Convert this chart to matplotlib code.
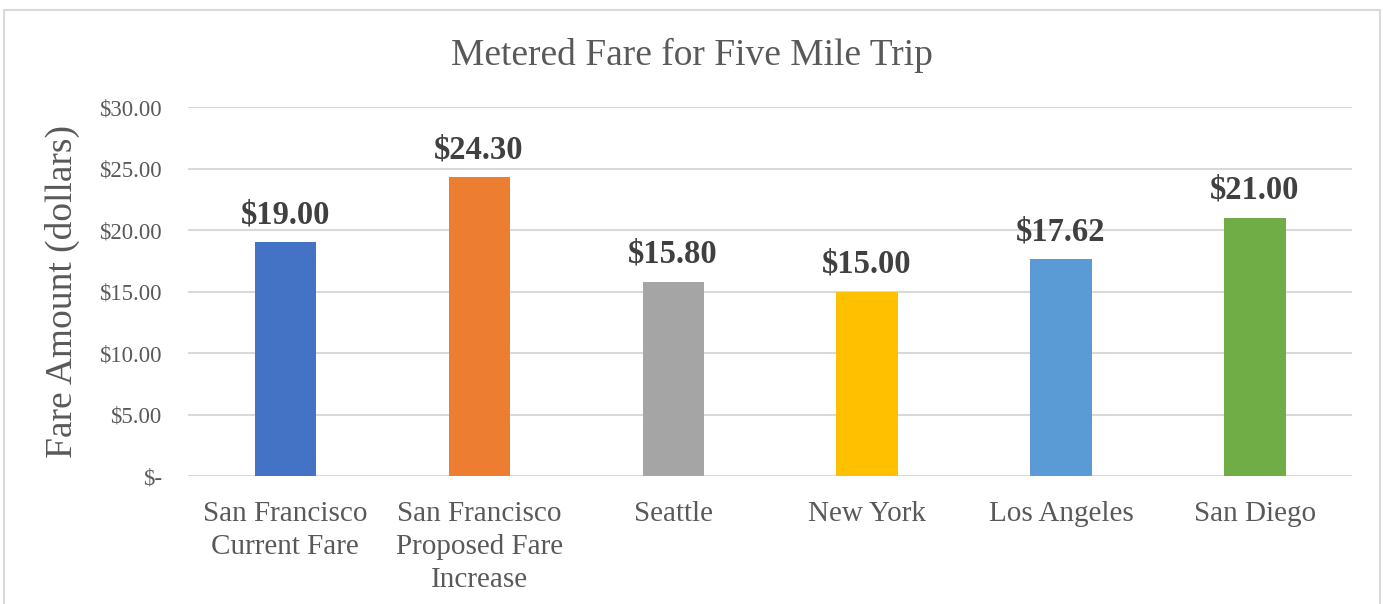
import numpy as np
import matplotlib.pyplot as plt
from matplotlib.patches import Rectangle
from matplotlib.ticker import FuncFormatter

cities = ['San Francisco\nCurrent Fare', 'San Francisco\nProposed Fare\nIncrease',
          'Seattle', 'New York', 'Los Angeles', 'San Diego']
fares = [19.00, 24.30, 15.80, 15.00, 17.62, 21.00]
colors = ['#4472C4', '#ED7D31', '#A5A5A5', '#FFC000', '#5B9BD5', '#70AD47']

plt.rcParams['font.family'] = ['Liberation Serif', 'DejaVu Serif']

fig = plt.figure(figsize=(13.83, 6.04), dpi=100)
ax = fig.add_axes([0.136, 0.2119, 0.8416, 0.6109])

# chart border (bottom edge runs off the image)
fig.patches.append(Rectangle((4 / 1383, -0.05), 1376 / 1383, 1 - 10 / 604 + 0.05,
                             transform=fig.transFigure, fill=False,
                             edgecolor='#d9d9d9', linewidth=1.5, clip_on=False))

x = np.arange(len(cities))
ax.bar(x, fares, width=0.315, color=colors, zorder=3)

for xi, v in zip(x, fares):
    ax.annotate(f'${v:.2f}', (xi, v), xytext=(0, 8.5), textcoords='offset points',
                ha='center', va='bottom', fontsize=23.5, fontweight='bold', color='#404040')

ax.set_xlim(-0.5, len(cities) - 0.5)
ax.set_ylim(0, 30)
ax.set_yticks(np.arange(0, 31, 5))
ax.yaxis.set_major_formatter(FuncFormatter(lambda v, p: '$-' if v == 0 else f'${v:.2f}'))
ax.grid(axis='y', color='#d9d9d9', linewidth=1.5, zorder=0)
ax.set_xticks(x)
ax.set_xticklabels(cities, fontsize=21, color='#595959', linespacing=1.35)
ax.tick_params(axis='y', labelsize=16.5, labelcolor='#595959', length=0, pad=19)
ax.tick_params(axis='x', length=0, pad=18)
for s in ax.spines.values():
    s.set_visible(False)

ax.set_ylabel('Fare Amount (dollars)', fontsize=27, color='#595959')
ax.yaxis.set_label_coords(-0.093, 0.5)
fig.text(0.5, 1 - 55 / 604, 'Metered Fare for Five Mile Trip', ha='center', va='center',
         fontsize=27, color='#595959')

fig.savefig('out.png', dpi=100)
